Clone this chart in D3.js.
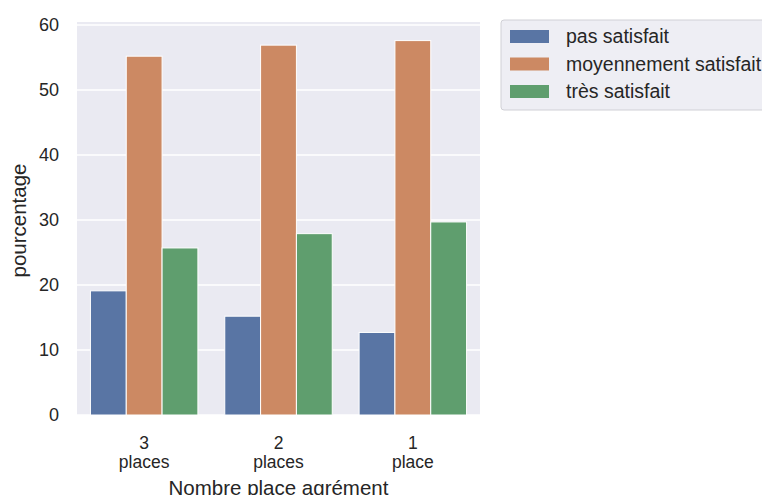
<!DOCTYPE html>
<html>
<head>
<meta charset="utf-8">
<script src="https://cdn.jsdelivr.net/npm/d3@7"></script>
<style>
  body { margin: 0; background: #fff; }
  text { font-family: "Liberation Sans", Arial, sans-serif; fill: #262626; }
</style>
</head>
<body>
<svg id="chart" width="762" height="495"></svg>
<script>
// categories along x (each label has two lines)
let categories = ["3 places", "2 places", "1 place"];
let catLines = [["3", "places"], ["2", "places"], ["1", "place"]];
let seriesNames = ["pas satisfait", "moyennement satisfait", "très satisfait"];
let pasSatisfait = [19.1, 15.2, 12.7];
let moyennement = [55.2, 56.9, 57.6];
let tresSatisfait = [25.7, 27.9, 29.7];
let yTicks = [0, 10, 20, 30, 40, 50, 60];
let colors = ["#5975a4", "#cc8963", "#5f9e6e"];

let series = [pasSatisfait, moyennement, tresSatisfait];

let svg = d3.select("#chart");
let margin = { top: 22, left: 77 };
let plotWidth = 403;
let plotHeight = 393;

let plot = svg.append("g")
  .attr("transform", "translate(" + margin.left + "," + margin.top + ")");

let yScale = d3.scaleLinear()
  .domain([0, 60.46])
  .range([plotHeight, 0]);

let xScale = d3.scaleBand()
  .domain(categories)
  .range([0, plotWidth])
  .paddingInner(0.2)
  .paddingOuter(0.1);

let subScale = d3.scaleBand()
  .domain(seriesNames)
  .range([0, xScale.bandwidth()]);

// background
plot.append("rect")
  .attr("width", plotWidth)
  .attr("height", plotHeight)
  .attr("fill", "#eaeaf2");

// grid
plot.selectAll("line.grid")
  .data(yTicks)
  .enter().append("line")
  .attr("class", "grid")
  .attr("x1", 0)
  .attr("x2", plotWidth)
  .attr("y1", d => yScale(d))
  .attr("y2", d => yScale(d))
  .attr("stroke", "#fff")
  .attr("stroke-width", 1.3);

// bars
let rows = [];
series.forEach(function(vals, s) {
  vals.forEach(function(v, i) {
    rows.push({ cat: categories[i], s: s, value: v });
  });
});

plot.selectAll("rect.bar")
  .data(rows)
  .enter().append("rect")
  .attr("class", "bar")
  .attr("x", d => xScale(d.cat) + subScale(seriesNames[d.s]))
  .attr("width", subScale.bandwidth())
  .attr("y", d => yScale(d.value))
  .attr("height", d => plotHeight - yScale(d.value))
  .attr("fill", d => colors[d.s])
  .attr("stroke", "#fff")
  .attr("stroke-width", 1);

// y axis
let yAxis = d3.axisLeft(yScale).tickValues(yTicks).tickSize(0).tickPadding(18);
let yGroup = plot.append("g").call(yAxis);
yGroup.select(".domain").remove();
yGroup.selectAll("text")
  .style("font-size", "18px")
  .attr("fill", "#262626")
  .style("font-family", "'Liberation Sans', Arial, sans-serif");

// x axis (two-line labels)
let xGroup = plot.append("g")
  .attr("transform", "translate(0," + plotHeight + ")");
categories.forEach(function(c, i) {
  let t = xGroup.append("text")
    .attr("x", xScale(c) + xScale.bandwidth() / 2)
    .attr("y", 34)
    .attr("text-anchor", "middle")
    .style("font-size", "17.5px");
  catLines[i].forEach(function(line, j) {
    t.append("tspan")
      .attr("x", xScale(c) + xScale.bandwidth() / 2)
      .attr("dy", j === 0 ? 0 : 18.5)
      .text(line);
  });
});

// axis titles
svg.append("text")
  .attr("x", margin.left + plotWidth / 2)
  .attr("y", 494.5)
  .attr("text-anchor", "middle")
  .style("font-size", "20.5px")
  .text("Nombre place agrément");

svg.append("text")
  .attr("transform", "translate(25.5," + (margin.top + plotHeight / 2 + 2) + ") rotate(-90)")
  .attr("text-anchor", "middle")
  .style("font-size", "20.5px")
  .text("pourcentage");

// legend
let legend = svg.append("g").attr("transform", "translate(501,20)");
legend.append("rect")
  .attr("width", 280)
  .attr("height", 90)
  .attr("rx", 3)
  .attr("fill", "#eeeef4")
  .attr("stroke", "#d0d0d6")
  .attr("stroke-width", 1);

seriesNames.forEach(function(name, i) {
  let row = legend.append("g").attr("transform", "translate(0," + (16.5 + i * 27.5) + ")");
  row.append("rect")
    .attr("x", 9)
    .attr("y", -6.5)
    .attr("width", 39)
    .attr("height", 13)
    .attr("fill", colors[i]);
  row.append("text")
    .attr("x", 65)
    .attr("y", 6.5)
    .style("font-size", "19.5px")
    .text(name);
});
</script>
</body>
</html>
